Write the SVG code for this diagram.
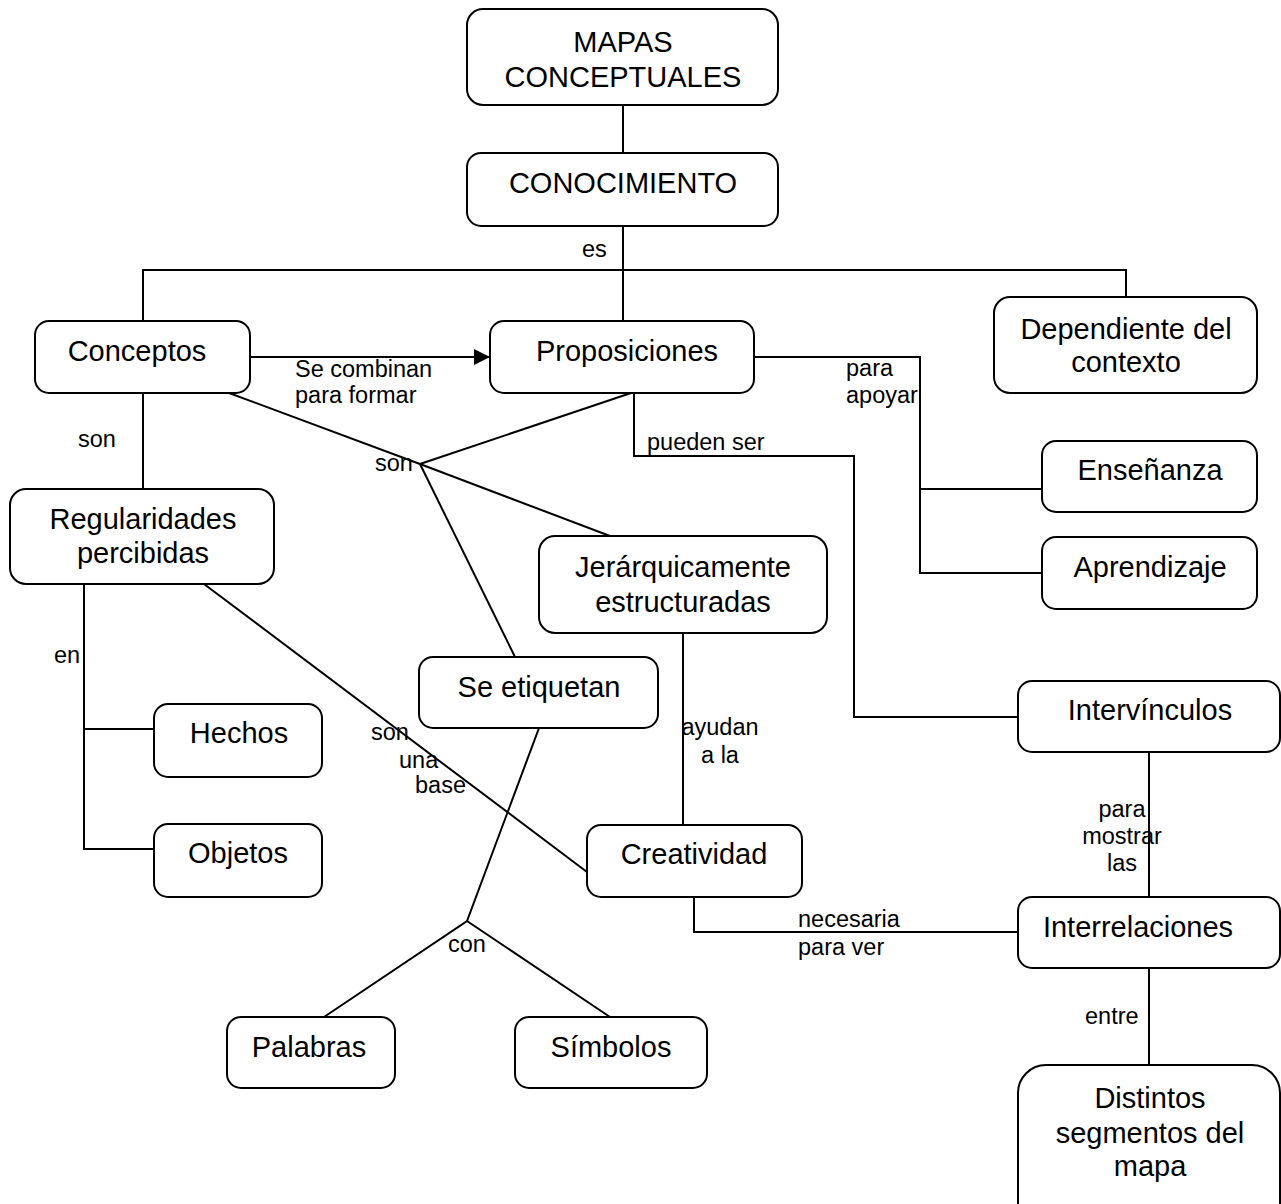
<svg xmlns="http://www.w3.org/2000/svg" width="1281" height="1204" viewBox="0 0 1281 1204">
  <style>
    .box { fill: #fff; stroke: #000; stroke-width: 2; }
    .nt { font-family: "Liberation Sans", Arial, sans-serif; font-size: 29px; fill: #000; text-anchor: middle; }
    .lt { font-family: "Liberation Sans", Arial, sans-serif; font-size: 23.5px; fill: #000; }
    .ln { fill: none; stroke: #000; stroke-width: 2; }
  </style>
  <defs>
    <marker id="arrow" viewBox="0 0 16 16" refX="16" refY="8" markerWidth="16" markerHeight="16" markerUnits="userSpaceOnUse" orient="auto">
      <path d="M0,0 L16,8 L0,16 Z" fill="#000"/>
    </marker>
  </defs>
  <rect width="1281" height="1204" fill="#fff"/>

  <!-- connectors -->
  <g id="connectors">
    <line class="ln" x1="623" y1="105" x2="623" y2="153"/>
    <line class="ln" x1="623" y1="226" x2="623" y2="321"/>
    <polyline class="ln" points="143,321 143,270 1126,270 1126,297"/>
    <line class="ln" x1="250" y1="357" x2="490" y2="357" marker-end="url(#arrow)"/>
    <polyline class="ln" points="754,357 920,357 920,573 1042,573"/>
    <line class="ln" x1="920" y1="489" x2="1042" y2="489"/>
    <polyline class="ln" points="634,393 634,456 854,456 854,717 1018,717"/>
    <line class="ln" x1="1149" y1="752" x2="1149" y2="897"/>
    <line class="ln" x1="1149" y1="968" x2="1149" y2="1065"/>
    <polyline class="ln" points="694,897 694,932 1018,932"/>
    <line class="ln" x1="143" y1="393" x2="143" y2="489"/>
    <polyline class="ln" points="84,584 84,849 154,849"/>
    <line class="ln" x1="84" y1="729" x2="154" y2="729"/>
    <line class="ln" x1="204" y1="584" x2="587" y2="872"/>
    <line class="ln" x1="229" y1="393" x2="420" y2="464"/>
    <line class="ln" x1="631" y1="393" x2="420" y2="464"/>
    <line class="ln" x1="420" y1="464" x2="610" y2="536"/>
    <line class="ln" x1="420" y1="464" x2="515" y2="657"/>
    <line class="ln" x1="683" y1="633" x2="683" y2="825"/>
    <polyline class="ln" points="539,728 467,921 324,1017"/>
    <line class="ln" x1="467" y1="921" x2="610" y2="1017"/>

    <!-- link labels -->
    <text class="lt" x="582" y="257">es</text>
    <text class="lt" x="295" y="377">Se combinan</text>
    <text class="lt" x="295" y="403">para formar</text>
    <text class="lt" x="846" y="376">para</text>
    <text class="lt" x="846" y="403">apoyar</text>
    <text class="lt" x="647" y="450">pueden ser</text>
    <text class="lt" x="78" y="447">son</text>
    <text class="lt" x="375" y="471">son</text>
    <text class="lt" x="54" y="663">en</text>
    <text class="lt" x="371" y="740">son</text>
    <text class="lt" x="399" y="768">una</text>
    <text class="lt" x="415" y="793">base</text>
    <text class="lt" x="720" y="735" text-anchor="middle">ayudan</text>
    <text class="lt" x="720" y="763" text-anchor="middle">a la</text>
    <text class="lt" x="1122" y="817" text-anchor="middle">para</text>
    <text class="lt" x="1122" y="844" text-anchor="middle">mostrar</text>
    <text class="lt" x="1122" y="871" text-anchor="middle">las</text>
    <text class="lt" x="798" y="927">necesaria</text>
    <text class="lt" x="798" y="955">para ver</text>
    <text class="lt" x="448" y="952">con</text>
    <text class="lt" x="1085" y="1024">entre</text>
  </g>

  <!-- concept nodes -->
  <g id="n-mapas">
    <rect class="box" x="467" y="9" width="311" height="96" rx="16"/>
    <text class="nt" x="623" y="52">MAPAS</text>
    <text class="nt" x="623" y="87">CONCEPTUALES</text>
  </g>
  <g id="n-conocimiento">
    <rect class="box" x="467" y="153" width="311" height="73" rx="14"/>
    <text class="nt" x="623" y="193">CONOCIMIENTO</text>
  </g>
  <g id="n-conceptos">
    <rect class="box" x="35" y="321" width="215" height="72" rx="14"/>
    <text class="nt" x="137" y="361">Conceptos</text>
  </g>
  <g id="n-proposiciones">
    <rect class="box" x="490" y="321" width="264" height="72" rx="14"/>
    <text class="nt" x="627" y="361">Proposiciones</text>
  </g>
  <g id="n-dependiente">
    <rect class="box" x="994" y="297" width="263" height="96" rx="16"/>
    <text class="nt" x="1126" y="339">Dependiente del</text>
    <text class="nt" x="1126" y="372">contexto</text>
  </g>
  <g id="n-ensenanza">
    <rect class="box" x="1042" y="441" width="215" height="71" rx="14"/>
    <text class="nt" x="1150" y="480">Enseñanza</text>
  </g>
  <g id="n-aprendizaje">
    <rect class="box" x="1042" y="537" width="215" height="72" rx="14"/>
    <text class="nt" x="1150" y="577">Aprendizaje</text>
  </g>
  <g id="n-regularidades">
    <rect class="box" x="10" y="489" width="264" height="95" rx="16"/>
    <text class="nt" x="143" y="529">Regularidades</text>
    <text class="nt" x="143" y="563">percibidas</text>
  </g>
  <g id="n-jerarquicamente">
    <rect class="box" x="539" y="536" width="288" height="97" rx="16"/>
    <text class="nt" x="683" y="577">Jerárquicamente</text>
    <text class="nt" x="683" y="612">estructuradas</text>
  </g>
  <g id="n-etiquetan">
    <rect class="box" x="419" y="657" width="239" height="71" rx="14"/>
    <text class="nt" x="539" y="697">Se etiquetan</text>
  </g>
  <g id="n-intervinculos">
    <rect class="box" x="1018" y="681" width="262" height="71" rx="14"/>
    <text class="nt" x="1150" y="720">Intervínculos</text>
  </g>
  <g id="n-hechos">
    <rect class="box" x="154" y="704" width="168" height="73" rx="14"/>
    <text class="nt" x="239" y="743">Hechos</text>
  </g>
  <g id="n-objetos">
    <rect class="box" x="154" y="824" width="168" height="73" rx="14"/>
    <text class="nt" x="238" y="863">Objetos</text>
  </g>
  <g id="n-creatividad">
    <rect class="box" x="587" y="825" width="215" height="72" rx="14"/>
    <text class="nt" x="694" y="864">Creatividad</text>
  </g>
  <g id="n-interrelaciones">
    <rect class="box" x="1018" y="897" width="262" height="71" rx="14"/>
    <text class="nt" x="1138" y="937">Interrelaciones</text>
  </g>
  <g id="n-palabras">
    <rect class="box" x="227" y="1017" width="168" height="71" rx="14"/>
    <text class="nt" x="309" y="1057">Palabras</text>
  </g>
  <g id="n-simbolos">
    <rect class="box" x="515" y="1017" width="192" height="71" rx="14"/>
    <text class="nt" x="611" y="1057">Símbolos</text>
  </g>
  <g id="n-distintos">
    <rect class="box" x="1018" y="1065" width="262" height="170" rx="28"/>
    <text class="nt" x="1150" y="1108">Distintos</text>
    <text class="nt" x="1150" y="1143">segmentos del</text>
    <text class="nt" x="1150" y="1176">mapa</text>
  </g>
</svg>
